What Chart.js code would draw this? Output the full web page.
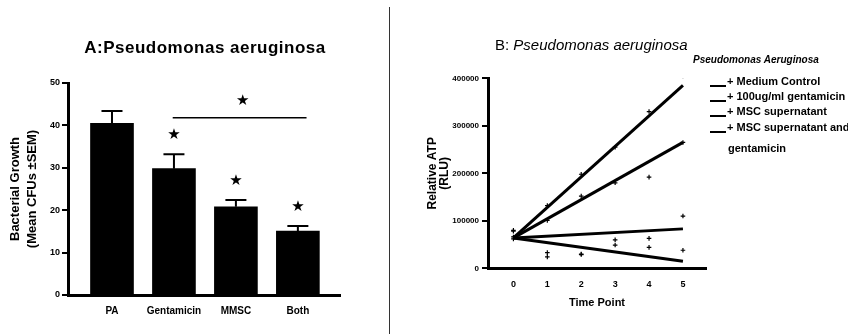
<!DOCTYPE html>
<html>
<head>
<meta charset="utf-8">
<script src="https://cdn.jsdelivr.net/npm/chart.js@4.4.1/dist/chart.umd.min.js"></script>
<style>
  html, body { margin:0; padding:0; background:#fff; width:848px; height:334px; overflow:hidden; }
  #wrap { position:relative; width:848px; height:334px; font-family:"Liberation Sans", Arial, sans-serif; color:#000; }
  canvas { position:absolute; top:0; }
  #cA { left:0; }
  #cB { left:391px; }
  #sep { position:absolute; left:389px; top:7px; width:1px; height:327px; background:#333; }
  .txt { position:absolute; white-space:nowrap; line-height:1; }
  #titleA { left:0; width:410px; text-align:center; top:39px; font-size:17px; font-weight:bold; letter-spacing:0.5px; }
  #titleB { left:495px; top:37px; font-size:15px; }
  #legTitle { left:693px; top:55px; font-size:10px; font-weight:bold; font-style:italic; }
  .row { position:absolute; left:710px; font-size:11px; font-weight:bold; white-space:nowrap; line-height:1; }
  .row .ln { display:inline-block; width:16px; height:0; border-bottom:2px solid #000; vertical-align:-2px; margin-right:1px; }
</style>
</head>
<body>
<div id="wrap">
  <canvas id="cA" width="388" height="334"></canvas>
  <div class="txt" id="titleA">A:Pseudomonas aeruginosa</div>
  <div id="sep"></div>
  <canvas id="cB" width="457" height="334"></canvas>
  <div class="txt" id="titleB">B: <i>Pseudomonas aeruginosa</i></div>
  <div class="txt" id="legTitle">Pseudomonas Aeruginosa</div>
  <div id="legend"></div>
</div>
<script>
// ---------- Panel A data ----------
const categoriesA = ["PA", "Gentamicin", "MMSC", "Both"];
const growthMean = [40.5, 29.8, 20.8, 15.1];
const growthSEM  = [2.9, 3.4, 1.6, 1.2];
const significant = [false, true, true, true];
const yTicksA = [0, 10, 20, 30, 40, 50];
const bracketA = { from: 0.98, to: 3.14, value: 41.8 };

// ---------- Panel B data ----------
const timePoints = [0, 1, 2, 3, 4, 5];
const seriesNames = ["+ Medium Control", "+ 100ug/ml gentamicin", "+ MSC supernatant", "+ MSC supernatant and gentamicin"];
const obsMedium = [78000, 132000, 198000, 255000, 330000, 405000];
const obsGent   = [80000, 101000, 152000, 180000, 192000, 265000];
const obsMSC    = [66000, 33000, 30000, 60000, 63000, 110000];
const obsBoth   = [62000, 24000, 29000, 49000, 44000, 38000];
const fitStart  = [64000, 64000, 64000, 64000];
const fitEnd    = [385000, 265000, 83000, 15000];
const yTicksB = [0, 100000, 200000, 300000, 400000];

const FONT = "'Liberation Sans', Arial, sans-serif";

// ---------- Panel A ----------
const errorPlugin = {
  id: 'errorStars',
  afterDatasetsDraw(chart) {
    const {ctx, scales: {x, y}} = chart;
    ctx.save();
    ctx.strokeStyle = '#000';
    ctx.fillStyle = '#000';
    ctx.lineWidth = 2;
    growthMean.forEach((m, i) => {
      const cx = x.getPixelForValue(i);
      const y0 = y.getPixelForValue(m);
      const y1 = y.getPixelForValue(m + growthSEM[i]);
      ctx.beginPath();
      ctx.moveTo(cx, y0); ctx.lineTo(cx, y1);
      ctx.moveTo(cx - 10.5, y1); ctx.lineTo(cx + 10.5, y1);
      ctx.stroke();
      if (significant[i]) {
        ctx.font = "15px 'DejaVu Sans'";
        ctx.textAlign = 'center';
        ctx.textBaseline = 'middle';
        ctx.fillText('★', cx, y1 - 19);
      }
    });
    const bx0 = x.getPixelForValue(bracketA.from);
    const bx1 = x.getPixelForValue(bracketA.to);
    const by = y.getPixelForValue(bracketA.value);
    ctx.lineWidth = 1.5;
    ctx.beginPath();
    ctx.moveTo(bx0, by); ctx.lineTo(bx1, by);
    ctx.stroke();
    ctx.font = "15px 'DejaVu Sans'";
    ctx.textAlign = 'center';
    ctx.textBaseline = 'middle';
    ctx.fillText('★', (bx0 + bx1) / 2 + 3, by - 16.5);
    ctx.restore();
  }
};

new Chart(document.getElementById('cA'), {
  type: 'bar',
  data: {
    datasets: [{
      data: categoriesA.map((c, i) => ({x: i, y: growthMean[i]})),
      backgroundColor: '#000',
      borderWidth: 0,
      barThickness: 43
    }]
  },
  options: {
    responsive: false,
    animation: false,
    devicePixelRatio: 1,
    layout: { padding: { top: 83, left: 0, right: 48, bottom: 0 } },
    plugins: {
      legend: { display: false },
      tooltip: { enabled: false },
      title: { display: false }
    },
    scales: {
      x: {
        type: 'linear',
        offset: false,
        min: -0.71, max: 3.68,
        afterFit: s => { s.height = 39; },
        grid: { display: false, drawTicks: false, offset: false },
        border: { display: true, color: '#000', width: 3 },
        ticks: {
          stepSize: 1, includeBounds: false, autoSkip: false, maxRotation: 0,
          padding: 10, color: '#000',
          font: { family: FONT, size: 10, weight: 'bold' },
          callback: v => (Number.isInteger(v) && categoriesA[v] !== undefined) ? categoriesA[v] : ''
        }
      },
      y: {
        min: 0, max: 50,
        afterFit: s => { s.width = 68; },
        afterBuildTicks: s => { s.ticks = yTicksA.map(v => ({value: v})); },
        grid: { drawOnChartArea: false, drawTicks: true, tickLength: 6, lineWidth: 2, color: '#000' },
        border: { display: true, color: '#000', width: 3 },
        ticks: { padding: 2, color: '#000', font: { family: FONT, size: 9, weight: 'bold' } },
        title: {
          display: true,
          text: ['Bacterial Growth', '(Mean CFUs ±SEM)'],
          color: '#000',
          font: { family: FONT, size: 13, weight: 'bold', lineHeight: 1.35 },
          padding: { top: 6.2, bottom: 0 }
        }
      }
    }
  },
  plugins: [errorPlugin]
});

// ---------- Panel B ----------
const obsAll = [obsMedium, obsGent, obsMSC, obsBoth];
const fitDatasets = fitStart.map((s, k) => ({
  type: 'scatter',
  showLine: true,
  data: [{x: timePoints[0], y: s}, {x: timePoints[timePoints.length - 1], y: fitEnd[k]}],
  borderColor: '#000',
  borderWidth: 3,
  pointRadius: 0,
  fill: false
}));
const obsDatasets = obsAll.map(arr => ({
  type: 'scatter',
  data: arr.map((v, i) => ({x: timePoints[i], y: v})),
  pointStyle: 'cross',
  pointRadius: 2.3,
  borderWidth: 1.2,
  borderColor: '#000',
  backgroundColor: '#000'
}));

new Chart(document.getElementById('cB'), {
  type: 'scatter',
  data: { datasets: [...fitDatasets, ...obsDatasets] },
  options: {
    responsive: false,
    animation: false,
    devicePixelRatio: 1,
    layout: { padding: { top: 78.3, left: 0, right: 142, bottom: 0 } },
    plugins: { legend: { display: false }, tooltip: { enabled: false }, title: { display: false } },
    scales: {
      x: {
        type: 'linear',
        min: -0.75, max: 5.68,
        afterFit: s => { s.height = 65.7; },
        afterBuildTicks: s => { s.ticks = timePoints.map(v => ({value: v})); },
        grid: { display: false, drawTicks: false },
        border: { display: true, color: '#000', width: 3 },
        ticks: { padding: 11.3, color: '#000', font: { family: FONT, size: 9, weight: 'bold' } },
        title: {
          display: true, text: 'Time Point', color: '#000',
          font: { family: FONT, size: 11, weight: 'bold', lineHeight: 1.2 },
          padding: { top: 0, bottom: 24.4 }
        }
      },
      y: {
        type: 'linear',
        min: 0, max: 400000,
        afterFit: s => { s.width = 97; },
        afterBuildTicks: s => { s.ticks = yTicksB.map(v => ({value: v})); },
        grid: { drawOnChartArea: false, drawTicks: true, tickLength: 6, lineWidth: 2, color: '#000' },
        border: { display: true, color: '#000', width: 3 },
        ticks: { padding: 3, color: '#000', font: { family: FONT, size: 8, weight: 'bold' }, callback: v => String(v) },
        title: {
          display: true, text: ['Relative ATP', '(RLU)'], color: '#000',
          font: { family: FONT, size: 12, weight: 'bold', lineHeight: 1 },
          padding: { top: 36, bottom: 0 }
        }
      }
    }
  }
});

// ---------- Legend (HTML) ----------
const legendTops = [76, 91, 106, 122];
const leg = document.getElementById('legend');
seriesNames.forEach((name, k) => {
  const d = document.createElement('div');
  d.className = 'row';
  d.style.top = legendTops[k] + 'px';
  if (k === 3) {
    const parts = name.split(' and ');
    d.innerHTML = '<span class="ln"></span>' + parts[0] + ' and<br><span style="display:inline-block;margin-left:18px;margin-top:10px">' + parts[1] + '</span>';
  } else {
    d.innerHTML = '<span class="ln"></span>' + name;
  }
  leg.appendChild(d);
});
</script>
</body>
</html>
